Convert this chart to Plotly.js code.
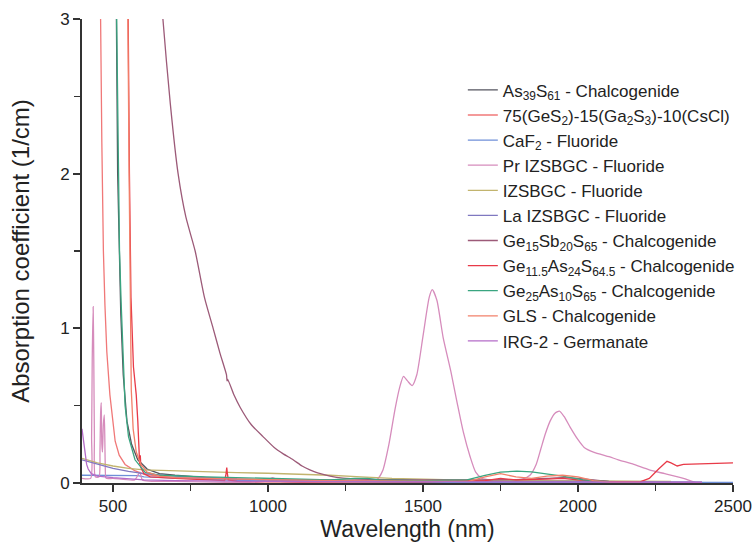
<!DOCTYPE html>
<html>
<head>
<meta charset="utf-8">
<script src="https://cdn.plot.ly/plotly-3.0.1.min.js"></script>
<style>html,body{margin:0;padding:0;background:#fff;}#chart{width:753px;height:542px;}</style>
</head>
<body>
<div id="chart"></div>
<script>
// ---- data (wavelength in nm, absorption coefficient in 1/cm) ----
const seriesNames = [
  "As<sub>39</sub>S<sub>61</sub> - Chalcogenide",
  "75(GeS<sub>2</sub>)-15(Ga<sub>2</sub>S<sub>3</sub>)-10(CsCl)",
  "CaF<sub>2</sub> - Fluoride",
  "Pr IZSBGC - Fluoride",
  "IZSBGC - Fluoride",
  "La IZSBGC - Fluoride",
  "Ge<sub>15</sub>Sb<sub>20</sub>S<sub>65</sub> - Chalcogenide",
  "Ge<sub>11.5</sub>As<sub>24</sub>S<sub>64.5</sub> - Chalcogenide",
  "Ge<sub>25</sub>As<sub>10</sub>S<sub>65</sub> - Chalcogenide",
  "GLS - Chalcogenide",
  "IRG-2 - Germanate"
];
const seriesColors = ["#55555f","#f07878","#6f8fd8","#d68cbc","#c2b46e","#7f78c0","#9c5a78","#e83a48","#3aa580","#f2806a","#b46cc8"];

const as39_wl  = [508,511,515,520,525,533,545,560,580,610,650,700,800,900,1000,1500,2000,2100];
const as39_val = [3.3,3.0,2.0,1.5,1.1,0.7,0.4,0.25,0.15,0.09,0.06,0.05,0.035,0.025,0.02,0.015,0.012,0.01];

const gesCs_wl  = [456,460,464,469,474,480,490,500,507,520,539,570,603,700,800,1000,1500,2000,2100];
const gesCs_val = [3.3,3.0,2.2,1.5,1.15,0.85,0.57,0.37,0.27,0.18,0.12,0.08,0.055,0.035,0.03,0.02,0.015,0.01,0.008];

const caf2_wl  = [400,500,580,600,700,800,900,1000,1500,2000,2500];
const caf2_val = [0.05,0.05,0.048,0.04,0.033,0.027,0.018,0.01,0.005,0.004,0.004];

const pr_wl  = [400,428,431,433,436,438,440,443,455,458,460,462,464,466,469,472,475,478,500,570,580,587,595,700,990,1015,1040,1300,1350,1370,1390,1410,1425,1437,1450,1465,1480,1500,1520,1530,1545,1565,1590,1610,1630,1652,1670,1690,1720,1780,1820,1845,1865,1880,1895,1910,1925,1940,1955,1975,2000,2020,2050,2100,2130,2180,2230,2280,2340,2380];
const pr_val = [0.03,0.03,0.3,0.8,1.14,0.8,0.3,0.04,0.04,0.2,0.45,0.52,0.25,0.2,0.38,0.44,0.12,0.03,0.03,0.02,0.05,0.07,0.02,0.01,0.01,0.035,0.01,0.012,0.02,0.08,0.25,0.48,0.62,0.69,0.66,0.63,0.7,0.95,1.2,1.25,1.18,0.94,0.72,0.52,0.33,0.17,0.07,0.03,0.02,0.02,0.025,0.05,0.12,0.22,0.32,0.4,0.45,0.465,0.43,0.36,0.28,0.23,0.2,0.17,0.15,0.12,0.085,0.06,0.03,0.003];

const izs_wl  = [400,450,500,550,600,700,800,900,1000,1100,1200,1300,1400,1600,2000,2300];
const izs_val = [0.16,0.13,0.11,0.095,0.085,0.078,0.072,0.067,0.063,0.058,0.05,0.04,0.03,0.02,0.015,0.01];

const la_wl  = [400,450,500,550,600,700,800,900,1000,1500,2000,2400];
const la_val = [0.15,0.12,0.095,0.075,0.06,0.045,0.035,0.025,0.02,0.01,0.01,0.005];

const gsb_wl  = [650,661,685,710,735,765,795,823,845,866,868,870,890,910,945,984,1020,1048,1081,1110,1135,1160,1200,1242,1300,1400,1600,1800,1900,1950,2000,2050,2100];
const gsb_val = [3.4,3.0,2.45,2.0,1.72,1.5,1.2,1.0,0.84,0.7,0.66,0.67,0.57,0.49,0.38,0.3,0.23,0.19,0.15,0.11,0.085,0.065,0.045,0.032,0.025,0.022,0.02,0.022,0.03,0.035,0.03,0.02,0.008];

const geas115_wl  = [547,549,553,558,566,575,580,584,586,588,590,600,620,700,800,860,864,867,869,872,900,1000,1500,1700,1750,1800,1900,1950,2000,2100,2200,2230,2260,2287,2300,2320,2340,2370,2400,2430,2460,2500];
const geas115_val = [3.3,3.0,2.0,1.2,0.75,0.57,0.4,0.22,0.12,0.18,0.1,0.06,0.04,0.03,0.02,0.015,0.05,0.1,0.06,0.02,0.01,0.008,0.008,0.015,0.03,0.02,0.025,0.03,0.02,0.008,0.008,0.03,0.09,0.14,0.13,0.11,0.12,0.122,0.125,0.123,0.126,0.13];

const geas25_wl  = [510,512,518,521,526,539,550,571,603,650,800,1000,1200,1280,1320,1360,1500,1642,1700,1750,1803,1850,1900,1950,2016,2100];
const geas25_val = [3.3,3.0,2.0,1.5,1.18,0.5,0.3,0.15,0.07,0.05,0.04,0.03,0.02,0.03,0.03,0.02,0.015,0.02,0.05,0.07,0.077,0.072,0.06,0.045,0.02,0.008];

const gls_wl  = [545,548,552,556,559,565,575,590,610,650,700,900,1200,1600,1650,1700,1750,1800,1850,1900,1950,2000,2050,2100,2200];
const gls_val = [3.3,3.0,2.0,1.3,0.6,0.35,0.2,0.12,0.07,0.045,0.035,0.025,0.015,0.01,0.012,0.04,0.06,0.04,0.03,0.045,0.05,0.04,0.015,0.005,0.005];

const irg_wl  = [400,405,410,415,420,430,450,500,600,700,1000,2000,2400];
const irg_val = [0.35,0.27,0.18,0.12,0.09,0.06,0.045,0.035,0.02,0.015,0.01,0.008,0.005];

const xTickVals = [500,1000,1500,2000,2500];
const yTickVals = [0,1,2,3];

const allWl  = [as39_wl,gesCs_wl,caf2_wl,pr_wl,izs_wl,la_wl,gsb_wl,geas115_wl,geas25_wl,gls_wl,irg_wl];
const allVal = [as39_val,gesCs_val,caf2_val,pr_val,izs_val,la_val,gsb_val,geas115_val,geas25_val,gls_val,irg_val];
const smoothIdx = [3,6];

const traces = seriesNames.map((n,i)=>({
  x: allWl[i], y: allVal[i], name: n, type: 'scatter', mode: 'lines',
  line: smoothIdx.includes(i) ? {color: seriesColors[i], width: 1.3, shape: 'spline', smoothing: 0.6}
                              : {color: seriesColors[i], width: 1.3}
}));

const font = "Liberation Sans, Arial, sans-serif";
const layout = {
  width: 753, height: 542,
  margin: {l: 82, r: 20, t: 19, b: 59},
  paper_bgcolor: '#fff', plot_bgcolor: '#fff',
  showlegend: true,
  legend: {x: 0.585, y: 0.885, xanchor: 'left', yanchor: 'top', bgcolor: 'rgba(0,0,0,0)',
           font: {family: font, size: 17, color: '#222'}, tracegroupgap: 0},
  xaxis: {range: [400, 2500], tickvals: xTickVals, ticktext: xTickVals.map(String),
          showgrid: false, zeroline: false, showline: true, linecolor: '#333', linewidth: 2,
          ticks: 'outside', ticklen: 7, tickwidth: 2, tickcolor: '#333',
          minor: {dtick: 250, tick0: 0, ticks: 'outside', ticklen: 6, tickwidth: 1.5, tickcolor: '#333'},
          tickfont: {family: font, size: 17, color: '#222'},
          title: {text: 'Wavelength (nm)', font: {family: font, size: 23, color: '#222'}, standoff: 8}},
  yaxis: {range: [0, 3], tickvals: yTickVals, ticktext: yTickVals.map(String),
          showgrid: false, zeroline: false, showline: true, linecolor: '#333', linewidth: 2,
          ticks: 'outside', ticklen: 7, tickwidth: 2, tickcolor: '#333',
          minor: {dtick: 0.5, tick0: 0, ticks: 'outside', ticklen: 6, tickwidth: 1.5, tickcolor: '#333'},
          tickfont: {family: font, size: 17, color: '#222'},
          title: {text: 'Absorption coefficient (1/cm)', font: {family: font, size: 24, color: '#222'}, standoff: 24}}
};
Plotly.newPlot('chart', traces, layout, {displayModeBar: false, staticPlot: true});
</script>
</body>
</html>
